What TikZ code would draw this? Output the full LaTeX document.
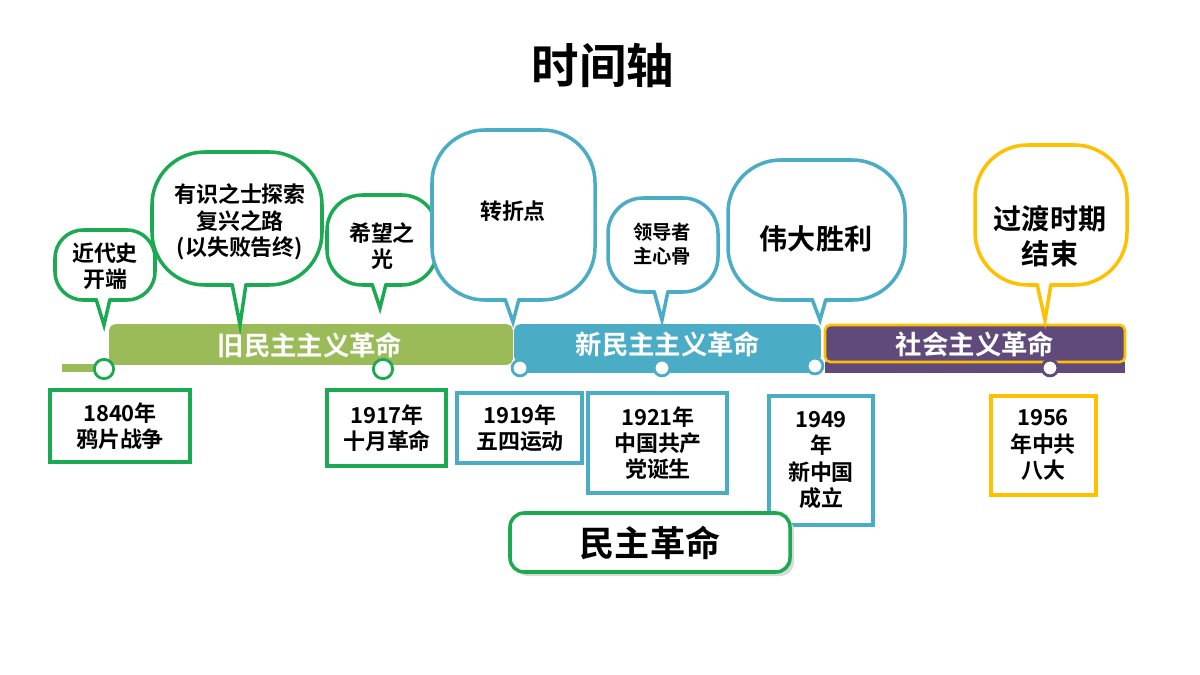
\documentclass[tikz,border=0pt]{standalone}
\usepackage{fontspec}
\setmainfont{Noto Sans CJK SC}[BoldFont={* Bold}]
\definecolor{cgreen}{HTML}{1BAA52}
\definecolor{bgreen}{HTML}{9BBB59}
\definecolor{cblue}{HTML}{4BACC6}
\definecolor{cpurple}{HTML}{604A7B}
\definecolor{corange}{HTML}{FFC000}
\begin{document}
\begin{tikzpicture}[x=0.02cm,y=-0.02cm,
  txt/.style={font=\bfseries\fontsize{12.5}{15}\selectfont,align=center,inner sep=0pt},
  bartxt/.style={font=\bfseries\fontsize{15}{18}\selectfont,text=white,inner sep=0pt},
  datebox/.style={draw=#1,line width=2pt,fill=white},
  dot/.style={circle,draw=#1,line width=1.6pt,fill=white,minimum size=11pt,inner sep=0pt}]
\useasboundingbox (0,0) rectangle (1200,675);
\newcommand{\callout}[9]{%
  \draw[#8,line width=2pt,fill=white,rounded corners=#9] (#2,#3) rectangle (#4,#5);
  \coordinate (#1tip) at (#6,#7);
  \fill[white] (#6-8,#5-6) -- (#1tip) -- (#6+6,#5-6) -- cycle;
  \draw[#8,line width=2pt] (#6-8,#5-1) -- (#1tip) -- (#6+6,#5-1);
}
\node[font=\bfseries\fontsize{27}{32}\selectfont] (title) at (603,65) {时间轴};
% bars
\fill[bgreen] (62,364) rectangle (110,372);
\fill[cblue] (515,362) rectangle (820,373);
\fill[cpurple] (825,362) rectangle (1125,373);
\draw[bgreen,fill=bgreen,line width=1pt,rounded corners=3pt] (110,325) rectangle (512,364);
\draw[cblue,fill=cblue,line width=1pt,rounded corners=3pt] (515,325) rectangle (820,362);
\draw[corange,fill=cpurple,line width=1.5pt,rounded corners=3pt] (825,325) rectangle (1125,362);
\node[bartxt] (b1) at (310,345) {旧民主主义革命};
\node[bartxt] (b2) at (668,344) {新民主主义革命};
\node[bartxt] (b3) at (975,344) {社会主义革命};
\node[dot=cgreen] (d1) at (104,369) {};
\node[dot=cgreen] (d2) at (383,369) {};
\node[dot=cblue,minimum size=9pt] (d3) at (520,368) {};
\node[dot=cblue,minimum size=9pt] (d4) at (662,368) {};
\node[dot=cblue,minimum size=9pt] (d5) at (815,366) {};
\node[dot=cpurple,minimum size=9pt] (d6) at (1050,368) {};
% callouts
\callout{c1}{55}{230}{155}{300}{104}{325}{cgreen}{16pt}
\node[txt] (t1) at (105,266) {近代史\\开端};
\callout{c2}{152}{152}{322}{285}{240}{325}{cgreen}{30pt}
\node[txt] (t2) at (240,222) {有识之士探索\\复兴之路\\(以失败告终)};
\callout{c3}{327}{195}{437}{285}{380}{308}{cgreen}{20pt}
\node[txt] (t3) at (382,246) {希望之\\光};
\callout{c4}{432}{130}{595}{300}{513}{322}{cblue}{30pt}
\node[txt] (t4) at (513,211) {转折点};
\callout{c5}{608}{198}{718}{292}{662}{320}{cblue}{20pt}
\node[txt,font=\bfseries\fontsize{11}{14}\selectfont] (t5) at (662,244) {领导者\\主心骨};
\callout{c6}{728}{160}{905}{300}{820}{320}{cblue}{30pt}
\node[txt,font=\bfseries\fontsize{16}{19}\selectfont] (t6) at (816,239) {伟大胜利};
\callout{c7}{975}{145}{1127}{285}{1045}{320}{corange}{30pt}
\node[txt,font=\bfseries\fontsize{16}{20}\selectfont] (t7) at (1050,236) {过渡时期\\结束};
% date boxes
\draw[datebox=cgreen] (50,390) rectangle (190,462);
\node[txt] (e1) at (120,426) {1840年\\鸦片战争};
\draw[datebox=cgreen] (327,390) rectangle (446,466);
\node[txt] (e2) at (387,428) {1917年\\十月革命};
\draw[datebox=cblue] (457,393) rectangle (582,463);
\node[txt] (e3) at (520,428) {1919年\\五四运动};
\draw[datebox=cblue] (588,393) rectangle (727,493);
\node[txt] (e4) at (658,443) {1921年\\中国共产\\党诞生};
\draw[datebox=cblue] (769,396) rectangle (873,525);
\node[txt] (e5) at (821,460) {1949\\年\\新中国\\成立};
\draw[datebox=corange] (991,396) rectangle (1096,495);
\node[txt] (e6) at (1043,445) {1956\\年中共\\八大};
% democracy box
\fill[black!15,rounded corners=8pt] (514,517) rectangle (794,576);
\draw[cgreen,line width=2pt,fill=white,rounded corners=8pt] (510,513) rectangle (790,572);
\node[font=\bfseries\fontsize{20}{24}\selectfont] (mz) at (650,543) {民主革命};
\end{tikzpicture}
\end{document}
